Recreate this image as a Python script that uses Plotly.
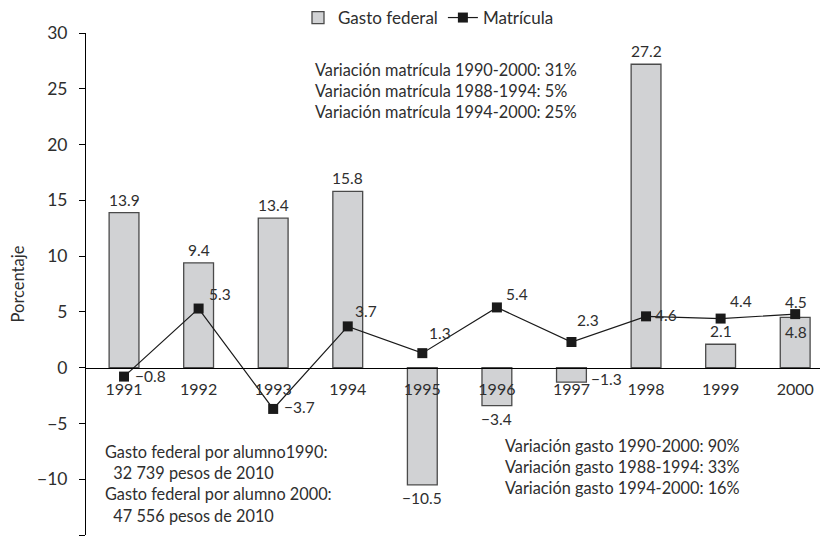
import plotly.graph_objects as go

years = ["1991", "1992", "1993", "1994", "1995", "1996", "1997", "1998", "1999", "2000"]
gasto_federal = [13.9, 9.4, 13.4, 15.8, -10.5, -3.4, -1.3, 27.2, 2.1, 4.5]
matricula = [-0.8, 5.3, -3.7, 3.7, 1.3, 5.4, 2.3, 4.6, 4.4, 4.8]
# label texts as printed in the source (the 2000 labels appear swapped in the original)
gasto_labels = ["13.9", "9.4", "13.4", "15.8", "−10.5", "−3.4", "−1.3", "27.2", "2.1", "4.8"]
matricula_labels = ["−0.8", "5.3", "−3.7", "3.7", "1.3", "5.4", "2.3", "4.6", "4.4", "4.5"]

notes_top = ["Variación matrícula 1990-2000: 31%",
             "Variación matrícula 1988-1994: 5%",
             "Variación matrícula 1994-2000: 25%"]
notes_left = ["Gasto federal por alumno1990:",
              "  32 739 pesos de 2010",
              "Gasto federal por alumno 2000:",
              "  47 556 pesos de 2010"]
notes_right = ["Variación gasto 1990-2000: 90%",
               "Variación gasto 1988-1994: 33%",
               "Variación gasto 1994-2000: 16%"]

FONT = "Lato"
TXT = "#2e2e2e"


def F(size):
    return dict(family=FONT, size=size, color=TXT)


fig = go.Figure()
fig.add_trace(go.Bar(
    x=years, y=gasto_federal, name="Gasto federal", width=0.4,
    marker=dict(color="#d1d2d4", line=dict(color="#4a4a4a", width=1.3)),
))
fig.add_trace(go.Scatter(
    x=years, y=matricula, name="Matrícula", mode="lines+markers",
    line=dict(color="#1a1a1a", width=1.2),
    marker=dict(symbol="square", size=10, color="#1a1a1a"),
))

annotations = []
# bar value label placement (style only)
bar_label_style = []
for v in gasto_federal:
    if v < 0:
        bar_label_style.append(dict(xanchor="center", xshift=0, yshift=-13))
    else:
        bar_label_style.append(dict(xanchor="center", xshift=0, yshift=13))
bar_label_style[6] = dict(xanchor="left", xshift=18, yshift=3)
bar_label_style[9] = dict(xanchor="center", xshift=1, yshift=-15)
for i, v in enumerate(gasto_federal):
    annotations.append(dict(x=i, y=v, xref="x", yref="y", text=gasto_labels[i],
                            showarrow=False, yanchor="middle", font=F(15.5),
                            **bar_label_style[i]))

line_label_style = [
    dict(xanchor="left", xshift=9, yshift=1),
    dict(xanchor="left", xshift=8, yshift=15),
    dict(xanchor="left", xshift=9, yshift=2),
    dict(xanchor="left", xshift=5, yshift=15),
    dict(xanchor="left", xshift=5, yshift=20),
    dict(xanchor="left", xshift=7, yshift=13),
    dict(xanchor="left", xshift=4, yshift=22),
    dict(xanchor="left", xshift=7, yshift=1),
    dict(xanchor="left", xshift=7, yshift=18),
    dict(xanchor="center", xshift=1, yshift=12),
]
for i, v in enumerate(matricula):
    annotations.append(dict(x=i, y=v, xref="x", yref="y", text=matricula_labels[i],
                            showarrow=False, yanchor="middle", font=F(15.5),
                            **line_label_style[i]))

# page body has an 8px default margin: plot area spans x 86..828, y 33..535 on screen
PL, PW, PT, PH = 86, 742, 33, 502


def add_note(lines, xpx, ytop_px):
    annotations.append(dict(
        x=(xpx - PL) / PW, y=(PT + PH - ytop_px) / PH, xref="paper", yref="paper",
        text="<br>".join(l.replace("  ", "&nbsp;&nbsp;") for l in lines),
        showarrow=False, xanchor="left", yanchor="top", align="left", font=F(16.3)))


add_note(notes_top, 313, 58)
add_note(notes_left, 103, 440)
add_note(notes_right, 503, 434)

fig.update_layout(
    width=820, height=529,
    margin=dict(l=78, r=0, t=25, b=2, autoexpand=False),
    paper_bgcolor="white", plot_bgcolor="white",
    font=F(15),
    showlegend=True,
    legend=dict(orientation="h", x=(298 - PL) / PW, y=(PT + PH - 18) / PH, xanchor="left", yanchor="middle",
                font=F(17), traceorder="normal", bgcolor="rgba(0,0,0,0)"),
    annotations=annotations,
)
fig.update_yaxes(range=[-15, 30], dtick=5, showgrid=False, zeroline=False,
                 showline=True, linecolor="black", linewidth=1,
                 ticks="outside", ticklen=6, tickcolor="black",
                 tickfont=F(17.5), ticklabelstandoff=8,
                 title=dict(text="Porcentaje", font=F(16.5), standoff=12))
fig.update_xaxes(type="category", range=[-0.51, 9.44], anchor="free", position=1/3,
                 showgrid=False, zeroline=False, showline=True, linecolor="black", linewidth=1,
                 ticks="", tickfont=F(16), ticklabelstandoff=7)

fig.write_html("out.html")
